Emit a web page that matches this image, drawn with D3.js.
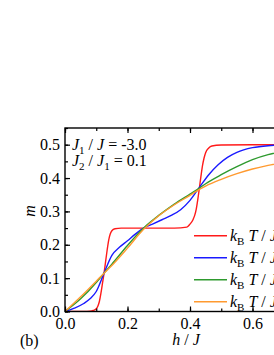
<!DOCTYPE html>
<html>
<head>
<meta charset="utf-8">
<script src="https://cdn.jsdelivr.net/npm/d3@7"></script>
<style>
  body { margin: 0; background: #fff; }
  svg { display: block; }
  svg text { font-family: "Liberation Serif", "Times New Roman", Times, "DejaVu Serif", "Noto Serif", serif; }
</style>
</head>
<body>
<svg id="chart" width="274" height="355"></svg>
<script>
// m versus h/J
var redH = [0, 0.06, 0.08, 0.09, 0.1, 0.105, 0.11, 0.115, 0.12, 0.125, 0.13, 0.135, 0.14, 0.145, 0.15, 0.16, 0.18, 0.25, 0.35, 0.39, 0.40, 0.41, 0.415, 0.42, 0.425, 0.43, 0.435, 0.44, 0.445, 0.45, 0.46, 0.47, 0.5, 0.6, 0.8]
var redM = [0, 0, 0.001, 0.003, 0.008, 0.016, 0.03, 0.055, 0.085, 0.115, 0.15, 0.185, 0.215, 0.233, 0.242, 0.248, 0.25, 0.25, 0.25, 0.253, 0.262, 0.276, 0.288, 0.307, 0.336, 0.37, 0.405, 0.437, 0.46, 0.476, 0.49, 0.496, 0.499, 0.5, 0.5]

var blueH = [0, 0.03, 0.06, 0.08, 0.1, 0.125, 0.15, 0.175, 0.2, 0.225, 0.25, 0.28, 0.31, 0.34, 0.37, 0.4, 0.43, 0.46, 0.49, 0.52, 0.55, 0.6, 0.65, 0.7, 0.8]
var blueM = [0, 0.01, 0.024, 0.038, 0.06, 0.115, 0.168, 0.193, 0.212, 0.232, 0.249, 0.262, 0.275, 0.288, 0.305, 0.333, 0.372, 0.41, 0.44, 0.462, 0.477, 0.491, 0.497, 0.499, 0.5]

var greenH = [0, 0.05, 0.1, 0.125, 0.15, 0.2, 0.25, 0.3, 0.35, 0.4, 0.43, 0.45, 0.5, 0.55, 0.6, 0.65, 0.7, 0.8]
var greenM = [0, 0.038, 0.087, 0.115, 0.142, 0.198, 0.249, 0.288, 0.322, 0.352, 0.37, 0.383, 0.41, 0.434, 0.455, 0.47, 0.48, 0.492]

var orangeH = [0, 0.05, 0.1, 0.125, 0.15, 0.2, 0.25, 0.3, 0.35, 0.4, 0.43, 0.45, 0.5, 0.55, 0.6, 0.65, 0.7, 0.8]
var orangeM = [0, 0.044, 0.091, 0.115, 0.138, 0.19, 0.245, 0.287, 0.32, 0.348, 0.366, 0.376, 0.396, 0.413, 0.427, 0.438, 0.447, 0.462]

var tempLabels = ["0.01", "0.05", "0.1", "0.2"]
var colors = ["#ff1a1a", "#1a1aff", "#2e9a2e", "#ff9a30"]

var xTicks = [0, 0.2, 0.4, 0.6, 0.8]
var yTicks = [0, 0.1, 0.2, 0.3, 0.4, 0.5]

var series = [
  {h: redH, m: redM},
  {h: blueH, m: blueM},
  {h: greenH, m: greenM},
  {h: orangeH, m: orangeM}
]

var margin = {left: 65, top: 128}
var width = 250, height = 183.5

var x = d3.scaleLinear().domain([0, 0.8]).range([0, width])
var y = d3.scaleLinear().domain([0, 0.55]).range([height, 0])

var svg = d3.select("#chart")
var g = svg.append("g").attr("transform", "translate(" + margin.left + "," + margin.top + ")")

g.append("clipPath").attr("id", "clip")
  .append("rect").attr("width", width).attr("height", height)

var line = d3.line()
  .x(d => x(d[0]))
  .y(d => y(d[1]))
  .curve(d3.curveMonotoneX)

g.append("g").attr("clip-path", "url(#clip)")
  .selectAll("path")
  .data(series)
  .join("path")
  .attr("d", s => line(s.h.map((h, i) => [h, s.m[i]])))
  .attr("fill", "none")
  .attr("stroke", (s, i) => colors[i])
  .attr("stroke-width", 1.4)

// minor ticks
var minorX = d3.range(0, 0.81, 0.1)
var minorY = d3.range(0, 0.551, 0.05)

function styleAxis(sel) {
  sel.attr("font-family", null).attr("font-size", null)
  sel.select(".domain").remove()
  sel.selectAll("line").attr("stroke", "#000").attr("stroke-width", 1.2)
  sel.selectAll("text").attr("fill", "#000").style("font-size", "16px")
}

g.append("g").attr("transform", "translate(0," + height + ")")
  .call(d3.axisBottom(x).tickValues(minorX).tickSize(-3).tickFormat(""))
  .call(styleAxis)
g.append("g")
  .call(d3.axisTop(x).tickValues(minorX).tickSize(-3).tickFormat(""))
  .call(styleAxis)
g.append("g")
  .call(d3.axisLeft(y).tickValues(minorY).tickSize(-3).tickFormat(""))
  .call(styleAxis)

g.append("g").attr("transform", "translate(0," + height + ")")
  .call(d3.axisBottom(x).tickValues(xTicks).tickSize(-5).tickPadding(6).tickFormat(d3.format(".1f")))
  .call(styleAxis)
g.append("g")
  .call(d3.axisTop(x).tickValues(xTicks).tickSize(-5).tickFormat(""))
  .call(styleAxis)
g.append("g")
  .call(d3.axisLeft(y).tickValues(yTicks).tickSize(-5).tickPadding(5).tickFormat(d3.format(".1f")))
  .call(styleAxis)

g.append("rect")
  .attr("width", width).attr("height", height)
  .attr("fill", "none").attr("stroke", "#000").attr("stroke-width", 1.4)

// axis titles
var xt = svg.append("text")
  .attr("x", 186).attr("y", 345)
  .attr("text-anchor", "middle")
  .style("font-size", "16px")
xt.append("tspan").style("font-style", "italic").text("h")
xt.append("tspan").text(" / ")
xt.append("tspan").style("font-style", "italic").text("J")

svg.append("text")
  .attr("transform", "translate(35,211) rotate(-90)")
  .attr("text-anchor", "middle")
  .style("font-size", "16px").style("font-style", "italic")
  .text("m")

svg.append("text")
  .attr("x", 20).attr("y", 346)
  .style("font-size", "16px")
  .text("(b)")

// parameter note
function jText(yPos, parts) {
  var t = svg.append("text").attr("x", 72).attr("y", yPos).style("font-size", "16px")
  parts.forEach(p => {
    var s = t.append("tspan").text(p.t)
    if (p.i) s.style("font-style", "italic")
    if (p.sub) s.style("font-size", "11px").attr("dy", 4)
    if (p.up) s.attr("dy", -4)
  })
}
jText(150, [{t: "J", i: true}, {t: "1", sub: true}, {t: " / ", up: true}, {t: "J", i: true}, {t: " = -3.0"}])
jText(166, [{t: "J", i: true}, {t: "2", sub: true}, {t: " / ", up: true}, {t: "J", i: true}, {t: "1", sub: true}, {t: " = 0.1", up: true}])

// legend
var legend = svg.append("g")
  .selectAll("g")
  .data(tempLabels)
  .join("g")
  .attr("transform", (d, i) => "translate(194," + (235.7 + i * 22) + ")")

legend.append("line")
  .attr("x1", 0).attr("x2", 33)
  .attr("stroke", (d, i) => colors[i])
  .attr("stroke-width", 1.4)

legend.each(function(d) {
  var t = d3.select(this).append("text").attr("x", 36).attr("y", 5).style("font-size", "16px")
  t.append("tspan").style("font-style", "italic").text("k")
  t.append("tspan").style("font-size", "11px").attr("dy", 4).text("B")
  t.append("tspan").attr("dy", -4).text(" ")
  t.append("tspan").style("font-style", "italic").text("T")
  t.append("tspan").text(" / ")
  t.append("tspan").style("font-style", "italic").text("J")
  t.append("tspan").text(" = " + d)
})
</script>
</body>
</html>
